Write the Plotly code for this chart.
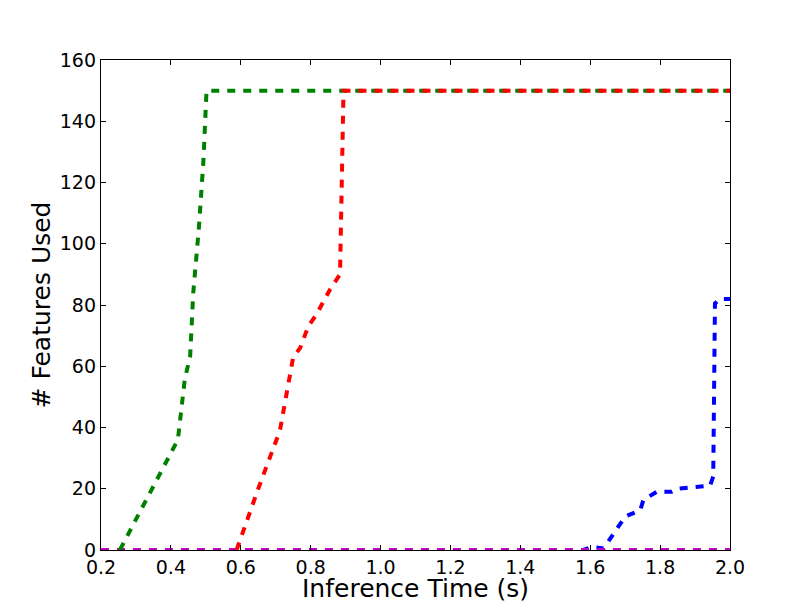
import plotly.graph_objects as go

green_x = [0.254, 0.42, 0.44, 0.455, 0.464, 0.48, 0.493, 0.502, 2.0]
green_y = [0, 36, 56, 63, 84, 105, 127, 150, 150]

red_x = [0.588, 0.65, 0.712, 0.75, 0.77, 0.793, 0.817, 0.855, 0.884, 0.894, 2.0]
red_y = [0, 20, 39, 63, 66, 73, 77, 85, 90, 150, 150]

blue_x = [0.2, 1.58, 1.604, 1.638, 1.70, 1.743, 1.752, 1.79, 1.833, 1.852, 1.943, 1.952, 1.957, 1.971, 2.0]
blue_y = [0, 0, 1, 0.5, 10.9, 13, 16.3, 19, 19, 20, 21, 24, 80.5, 82, 82]

magenta_x = [0.2, 2.0]
magenta_y = [0, 0]

x_ticks = [0.2, 0.4, 0.6, 0.8, 1.0, 1.2, 1.4, 1.6, 1.8, 2.0]
y_ticks = [0, 20, 40, 60, 80, 100, 120, 140, 160]

x_title = "Inference Time (s)"
y_title = "# Features Used"

fig = go.Figure()
dash = "8px,8px"
for xs, ys, col in [(blue_x, blue_y, "#0000FF"), (magenta_x, magenta_y, "#BF00BF"),
                    (green_x, green_y, "#008000"), (red_x, red_y, "#FF0000")]:
    fig.add_trace(go.Scatter(x=xs, y=ys, mode="lines",
                             line=dict(color=col, width=4, dash=dash),
                             showlegend=False, cliponaxis=True))

axis_common = dict(showgrid=False, zeroline=False, showline=True, linecolor="black",
                   linewidth=1.3, mirror="ticks", ticks="inside", ticklen=5, automargin=False,
                   tickcolor="black", tickfont=dict(family="DejaVu Sans", size=19, color="black"))
fig.update_xaxes(range=[0.2, 2.0], tickvals=x_ticks, tickformat=".1f", **axis_common)
fig.update_yaxes(range=[0, 160], tickvals=y_ticks,
                 title=dict(text=y_title, font=dict(family="DejaVu Sans", size=25, color="black"), standoff=2),
                 **axis_common)
fig.add_annotation(text=x_title, xref="paper", yref="paper", x=0.5, y=0,
                   xanchor="center", yanchor="top", yshift=-22, showarrow=False,
                   font=dict(family="DejaVu Sans", size=25, color="black"))
fig.update_layout(width=796, height=596, margin=dict(l=93, r=74, t=52, b=54),
                  paper_bgcolor="white", plot_bgcolor="white")
fig.write_html("out.html")
